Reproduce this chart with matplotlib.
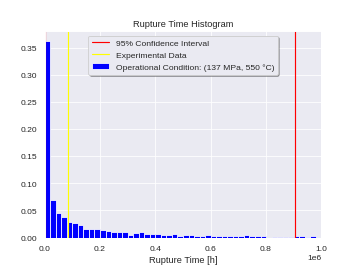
import numpy as np
import matplotlib
matplotlib.use("Agg")
import matplotlib.pyplot as plt
import seaborn as sns

# histogram bin fractions (bin width 20000 h, starting at 0)
bin_width = 20000
frequencies = [0.362, 0.070, 0.046, 0.038, 0.028, 0.026, 0.0235, 0.016, 0.0155, 0.0155,
               0.0135, 0.0117, 0.0099, 0.0093, 0.011, 0.0055, 0.0086, 0.011, 0.0068, 0.006,
               0.006, 0.005, 0.005, 0.0074, 0.0025, 0.0055, 0.0055, 0.0025, 0.003, 0.005,
               0.0037, 0.0037, 0.003, 0.003, 0.003, 0.0035, 0.005, 0.003, 0.002, 0.003,
               0.0, 0.0015, 0.0015, 0.0015, 0.001, 0.003, 0.002, 0.0015, 0.002]

ci_bounds = [1000, 905000]
experimental_time = 84000

sns.set_theme(style="darkgrid")
plt.rcParams['font.family'] = ['Liberation Sans', 'DejaVu Sans']

edges = np.arange(len(frequencies) + 1) * bin_width
centers = edges[:-1] + bin_width / 2

fig, ax = plt.subplots(figsize=(6.4, 4.8))

ax.axvline(ci_bounds[0], color='red', label='95% Confidence Interval')
ax.axvline(ci_bounds[1], color='red')
ax.axvline(experimental_time, color='yellow', label='Experimental Data')
ax.hist(centers, bins=edges, weights=frequencies, color='blue',
        label='Operational Condition: (137 MPa, 550 °C)')

ax.set_xlim(0, 1e6)
ax.set_xlabel('Rupture Time [h]')
ax.set_title('Rupture Time Histogram')
ax.legend(loc='upper center', shadow=True)

fig.savefig('out.png', dpi=55.8)
